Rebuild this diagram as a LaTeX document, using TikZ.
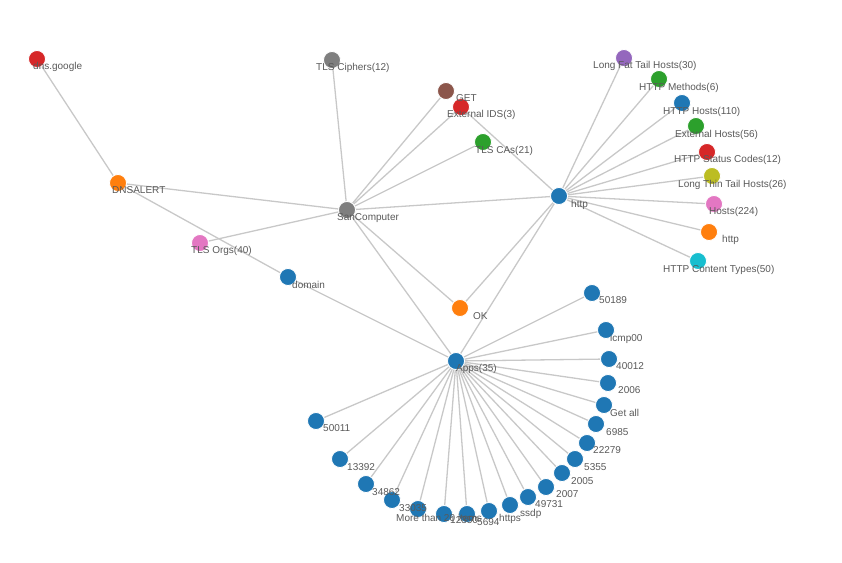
\documentclass[tikz,border=0pt]{standalone}
\usepackage{fontspec}
\setmainfont{Liberation Sans}
\usetikzlibrary{backgrounds}
\definecolor{cblue}{HTML}{1F77B4}
\definecolor{corange}{HTML}{FF7F0E}
\definecolor{cgreen}{HTML}{2CA02C}
\definecolor{cred}{HTML}{D62728}
\definecolor{cpurple}{HTML}{9467BD}
\definecolor{cbrown}{HTML}{8C564B}
\definecolor{cpink}{HTML}{E377C2}
\definecolor{cgray}{HTML}{7F7F7F}
\definecolor{colive}{HTML}{BCBD22}
\definecolor{ccyan}{HTML}{17BECF}
\definecolor{linkgray}{HTML}{C8C8C8}
\definecolor{txtgray}{HTML}{595959}

\tikzset{
  dot/.style={circle, fill=#1, draw=white, line width=0.8pt, minimum size=17pt, inner sep=0pt},
  txt/.style={anchor=west, inner sep=0pt, yshift=-1.5pt, text=txtgray, font=\fontsize{10}{12}\selectfont},
  link/.style={draw=linkgray, line width=1.3pt}
}

\begin{document}
\begin{tikzpicture}[x=1pt,y=-1pt]
    \useasboundingbox (0,0) rectangle (842,562);
    % left part
    \node[dot=cred] (dns) at (37,59) {};
    \node[dot=corange] (dnsalert) at (118,183) {};
    \node[dot=cgray] (ciphers) at (332,60) {};
    \node[dot=cgray] (san) at (347,210) {};
    \node[dot=cpink] (orgs) at (200,243) {};
    \node[dot=cblue] (domain) at (288,277) {};
    \node[dot=cbrown] (get) at (446,91) {};
    \node[dot=cred] (extids) at (461,107) {};
    \node[dot=cgreen] (cas) at (483,142) {};
    \node[dot=corange] (ok) at (460,308) {};
    \node[dot=cblue] (apps) at (456,361) {};
    % http hub and its leaves
    \node[dot=cblue] (http) at (559,196) {};
    \node[dot=cpurple] (fat) at (624,58) {};
    \node[dot=cgreen] (methods) at (659,79) {};
    \node[dot=cblue] (hhosts) at (682,103) {};
    \node[dot=cgreen] (exthosts) at (696,126) {};
    \node[dot=cred] (status) at (707,152) {};
    \node[dot=colive] (thin) at (712,176) {};
    \node[dot=cpink] (hosts) at (714,204) {};
    \node[dot=corange] (http2) at (709,232) {};
    \node[dot=ccyan] (ctypes) at (698,261) {};

    \node[txt] (l-dns) at (33,65) {dns.google};
    \node[txt] (l-dnsalert) at (112,189) {DNSALERT};
    \node[txt] (l-ciphers) at (316,66) {TLS Ciphers(12)};
    \node[txt] (l-san) at (337,217) {SanComputer};
    \node[txt] (l-orgs) at (191,249) {TLS Orgs(40)};
    \node[txt] (l-domain) at (292,283) {domain};
    \node[txt] (l-get) at (456,97) {GET};
    \node[txt] (l-extids) at (447,113) {External IDS(3)};
    \node[txt] (l-cas) at (475,149) {TLS CAs(21)};
    \node[txt] (l-ok) at (473,315) {OK};
    \node[txt] (l-apps) at (456,367) {Apps(35)};
    \node[txt] (l-http) at (571,203) {http};
    \node[txt] (l-fat) at (593,64) {Long Fat Tail Hosts(30)};
    \node[txt] (l-methods) at (639,86) {HTTP Methods(6)};
    \node[txt] (l-hhosts) at (663,110) {HTTP Hosts(110)};
    \node[txt] (l-exthosts) at (675,133) {External Hosts(56)};
    \node[txt] (l-status) at (674,158) {HTTP Status Codes(12)};
    \node[txt] (l-thin) at (678,183) {Long Thin Tail Hosts(26)};
    \node[txt] (l-hosts) at (709,210) {Hosts(224)};
    \node[txt] (l-http2) at (722,238) {http};
    \node[txt] (l-ctypes) at (663,268) {HTTP Content Types(50)};

    % apps leaves
    \foreach \i/\x/\y/\lx/\ly/\t in {
      1/592/293/599/299/50189, 2/606/330/610/337/icmp00,
      3/609/359/616/365/40012, 4/608/383/618/389/2006,
      5/604/405/610/411/Get all, 6/596/424/606/431/6985,
      7/587/443/593/449/22279, 8/575/459/584/466/5355,
      9/562/473/571/480/2005, 10/546/487/556/493/2007,
      11/528/497/535/503/49731, 12/510/505/520/512/ssdp,
      13/489/511/499/517/https, 14/467/514/477/521/5694,
      15/444/514/450/519/12350, 16/418/509/396/516/More than 20 items,
      17/392/500/399/507/33035, 18/366/484/372/491/34862,
      19/340/459/347/466/13392, 20/316/421/323/427/50011}
    {
      \node[dot=cblue] (a\i) at (\x,\y) {};
      \node[txt] (l-a\i) at (\lx,\ly) {\t};
    }

    \begin{scope}[on background layer]
    \draw[link] (dns) -- (dnsalert);
    \draw[link] (dnsalert) -- (san);
    \draw[link] (dnsalert) -- (domain);
    \draw[link] (orgs) -- (san);
    \draw[link] (ciphers) -- (san);
    \draw[link] (get) -- (san);
    \draw[link] (extids) -- (san);
    \draw[link] (extids) -- (http);
    \draw[link] (cas) -- (san);
    \draw[link] (san) -- (http);
    \draw[link] (san) -- (ok);
    \draw[link] (san) -- (apps);
    \draw[link] (ok) -- (http);
    \draw[link] (apps) -- (http);
    \draw[link] (domain) -- (apps);
    \foreach \n in {fat,methods,hhosts,exthosts,status,thin,hosts,http2,ctypes}
    \draw[link] (http) -- (\n);
    \foreach \i in {1,...,20}
    \draw[link] (apps) -- (a\i);
    \end{scope}
\end{tikzpicture}
\end{document}
